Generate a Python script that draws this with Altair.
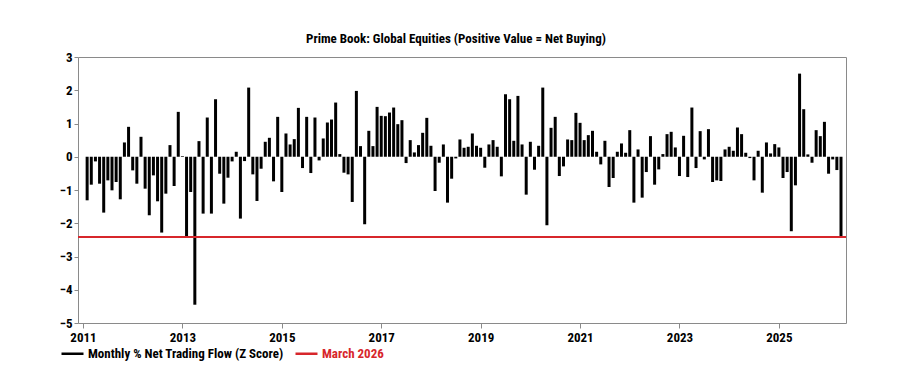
import altair as alt
import pandas as pd

SERIES = "Monthly % Net Trading Flow (Z Score)"
MARKER = "March 2026"

years = list(range(2011, 2027))
vals_by_year = {
    2011: [-1.31, -0.84, -0.14, -0.81, -1.68, -0.71, -1.01, -0.76, -1.28, 0.43, 0.90, -0.41],
    2012: [-0.81, 0.60, -0.96, -1.76, -0.56, -1.34, -2.28, -1.11, 0.35, -0.88, 1.35, 0.02],
    2013: [-2.41, -1.06, -4.45, 0.47, -1.71, 1.18, -1.71, 1.73, -0.51, -1.41, -0.63, -0.14],
    2014: [0.15, -1.86, -0.13, 2.08, -0.53, -1.33, -0.36, 0.45, 0.57, -0.74, 1.20, -1.06],
    2015: [0.70, 0.37, 0.53, 1.47, -0.34, 1.20, -0.49, 1.18, -0.11, 0.55, 1.03, 1.12],
    2016: [1.63, 0.08, -0.48, -0.53, -1.36, 1.98, 0.32, -2.03, 0.78, 0.32, 1.50, 1.23],
    2017: [1.22, 1.33, 1.48, 0.98, 1.10, -0.19, 0.50, 0.13, 0.35, 0.72, 1.17, 0.33],
    2018: [-1.03, -0.18, 0.37, -1.38, -0.66, -0.05, 0.52, 0.27, 0.30, 0.70, 0.33, 0.27],
    2019: [-0.33, 0.37, 0.50, 0.30, -0.59, 1.88, 1.73, 0.48, 1.83, 0.37, -1.14, 0.45],
    2020: [-0.39, 0.33, 2.08, -2.06, 0.87, 1.20, -0.58, -0.29, 0.52, 0.50, 1.32, 1.02],
    2021: [0.50, 0.65, 0.78, 0.15, -0.23, 0.48, -0.91, -0.64, 0.15, 0.40, 0.12, 0.80],
    2022: [-1.38, 0.22, -1.23, -0.46, 0.62, -0.84, -0.38, 0.08, 0.68, 0.75, 0.28, -0.58],
    2023: [0.63, -0.61, 1.48, -0.34, 0.77, -0.08, 0.83, -0.76, -0.71, -0.73, 0.22, 0.30],
    2024: [0.18, 0.88, 0.68, 0.12, -0.04, -0.71, 0.18, -1.08, 0.43, 0.10, 0.38, 0.28],
    2025: [-0.64, -0.46, -2.24, -0.86, 2.50, 1.43, 0.07, -0.18, 0.80, 0.62, 1.05, -0.51],
    2026: [-0.08, -0.40, -2.41],
}

x_ticks = list(range(2011, 2026, 2))
y_ticks = [-5, -4, -3, -2, -1, 0, 1, 2, 3]

rows = []
for y in years:
    for m, v in enumerate(vals_by_year[y], start=1):
        rows.append({"t": y + m / 12.0, "v": v, "series": SERIES})
df = pd.DataFrame(rows)
rule_df = pd.DataFrame([{"v": vals_by_year[2026][-1], "series": MARKER}])

FONT = "Liberation Sans Narrow, Roboto Condensed, Arial Narrow, Roboto, sans-serif"
RED = "#d7262b"

color = alt.Color(
    "series:N",
    scale=alt.Scale(domain=[SERIES, MARKER], range=["#000000", RED]),
    legend=alt.Legend(
        title=None,
        orient="none",
        legendX=-18,
        legendY=284,
        direction="horizontal",
        symbolType="stroke",
        symbolSize=484,
        symbolStrokeWidth=2.5,
        symbolStrokeColor={"expr": "scale('color', datum.value)"},
        labelFont=FONT,
        labelFontSize=13,
        labelFontWeight="bold",
        labelColor={"expr": "datum.value == 'March 2026' ? '#d7262b' : '#000000'"},
        labelLimit=500,
        labelOffset=3,
        columnPadding=6,
        padding=0,
    ),
)

y_scale = alt.Scale(domain=[-5, 3], nice=False)
y_axis = alt.Axis(values=y_ticks, tickCount=9, format="d", title=None,
                  tickSize=4, labelPadding=2, grid=False,
                  labelFlush=False, labelOverlap=False)

bars = alt.Chart(df).mark_bar(size=3).encode(
    x=alt.X(
        "t:Q",
        scale=alt.Scale(domain=[2011, 2026.25], nice=False, zero=False),
        axis=alt.Axis(values=x_ticks, format="d", title=None, tickSize=5,
                      labelPadding=3, grid=False, labelFlush=False,
                      labelOverlap=False),
    ),
    y=alt.Y("v:Q", scale=y_scale, axis=y_axis),
    color=color,
)

rule = alt.Chart(rule_df).mark_rule(strokeWidth=2).encode(
    y=alt.Y("v:Q", scale=y_scale, axis=y_axis),
    color=color,
)

chart = (
    alt.layer(bars, rule)
    .properties(
        width=768,
        height=266,
        autosize=alt.AutoSizeParams(type="none"),
        padding={"left": 70, "top": 49, "right": 40, "bottom": 45},
        title=alt.TitleParams(
            "Prime Book: Global Equities (Positive Value = Net Buying)",
            font=FONT,
            fontSize=13,
            fontWeight="bold",
            color="#000000",
            anchor="middle",
            offset=5,
            dx=-6,
        ),
    )
    .configure_view(stroke="#8a8a8a", strokeWidth=1)
    .configure_axis(
        domain=False,
        labelFont=FONT,
        labelFontSize=13,
        labelFontWeight="bold",
        labelColor="#000000",
        tickColor="#8a8a8a",
        labelOverlap=False,
    )
)

chart.save("out.html", embed_options={"renderer": "svg", "actions": False})
